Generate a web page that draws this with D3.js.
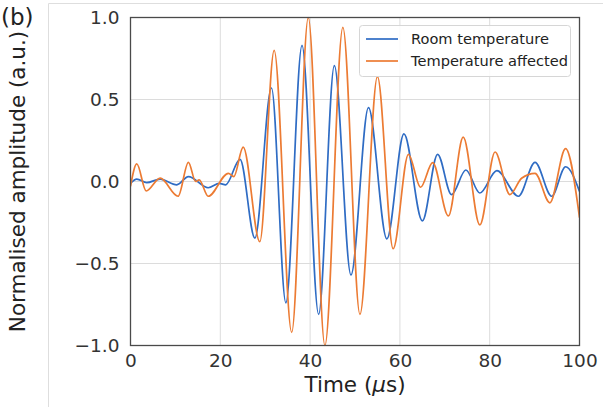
<!DOCTYPE html>
<html>
<head>
<meta charset="utf-8">
<script src="https://cdn.jsdelivr.net/npm/d3@7"></script>
<style>
  html, body { margin: 0; padding: 0; background: #fff; }
  svg { display: block; font-family: "DejaVu Sans", sans-serif; }
</style>
</head>
<body>
<svg id="chart" width="612" height="407"></svg>
<script>
// Ultrasonic signal envelopes: local extrema (time in µs, normalised amplitude)
const roomTime = [0, 1.4, 3.6, 6.6, 10.3, 12.9, 17.3, 19.8, 21.2, 24.4, 27.7, 31.4, 34.6, 38.2, 41.9, 45.4, 49.1, 53.0, 57.1, 60.9, 65.0, 68.4, 71.5, 74.7, 77.8, 81.6, 86.4, 90.1, 93.8, 96.9, 100];
const roomAmp  = [-0.01, 0.015, -0.007, 0.015, -0.02, 0.03, -0.038, -0.012, -0.02, 0.135, -0.345, 0.57, -0.74, 0.83, -0.81, 0.706, -0.57, 0.45, -0.35, 0.29, -0.24, 0.166, -0.08, 0.07, -0.07, 0.066, -0.09, 0.117, -0.09, 0.09, -0.06];

const hotTime = [0, 1.4, 3.5, 6.6, 10.6, 12.9, 14.5, 15.3, 17.3, 21.8, 23.0, 25.1, 28.8, 32.0, 35.9, 39.6, 43.3, 47.3, 51.1, 55.0, 58.5, 61.9, 64.6, 67.3, 70.8, 74.1, 77.8, 81.2, 84.5, 87.1, 90.1, 93.4, 96.9, 100];
const hotAmp  = [-0.03, 0.107, -0.058, 0.02, -0.09, 0.117, 0.0, 0.01, -0.09, 0.05, 0.03, 0.21, -0.367, 0.8, -0.92, 1.0, -1.0, 0.94, -0.81, 0.64, -0.41, 0.166, -0.035, 0.115, -0.21, 0.27, -0.265, 0.18, -0.08, 0.02, 0.05, -0.13, 0.2, -0.22];

const seriesNames = ["Room temperature", "Temperature affected"];
const seriesColors = ["#2f6cc4", "#ec7b33"];

const xTicks = [0, 20, 40, 60, 80, 100];
const yTicks = [-1.0, -0.5, 0.0, 0.5, 1.0];

const svg = d3.select("#chart");
const W = 612, H = 407;
const plot = { left: 130.5, right: 579.5, top: 17.5, bottom: 345.5 };

const x = d3.scaleLinear().domain([0, 100]).range([plot.left, plot.right]);
const y = d3.scaleLinear().domain([-1, 1]).range([plot.bottom, plot.top]);

// faint frame around the figure panel
svg.append("path")
  .attr("d", `M48.5,${H} V3.5 H603`)
  .attr("fill", "none").attr("stroke", "#dedede").attr("stroke-width", 1);

// panel tag
svg.append("text").attr("x", 1).attr("y", 25)
  .attr("font-size", 23).attr("fill", "#222").text("(b)");

// grid
const grid = svg.append("g");
grid.selectAll("line.gx").data(xTicks).join("line")
  .attr("x1", d => x(d)).attr("x2", d => x(d))
  .attr("y1", plot.top).attr("y2", plot.bottom)
  .attr("stroke", "#dcdcdc").attr("stroke-width", 1);
grid.selectAll("line.gy").data(yTicks).join("line")
  .attr("x1", plot.left).attr("x2", plot.right)
  .attr("y1", d => y(d)).attr("y2", d => y(d))
  .attr("stroke", "#dcdcdc").attr("stroke-width", 1);

// axes (labels only, no tick marks)
const fmtY = v => d3.format(".1f")(v).replace("-", "\u2212");
const xAxis = svg.append("g").attr("transform", `translate(0,${plot.bottom})`)
  .call(d3.axisBottom(x).tickValues(xTicks).tickSize(0).tickPadding(8).tickFormat(d3.format("d")));
const yAxis = svg.append("g").attr("transform", `translate(${plot.left},0)`)
  .call(d3.axisLeft(y).tickValues(yTicks).tickSize(0).tickPadding(11).tickFormat(fmtY));
[xAxis, yAxis].forEach(g => {
  g.select(".domain").remove();
  g.selectAll("text").attr("font-size", 18.5).attr("fill", "#333")
    .attr("font-family", "DejaVu Sans, sans-serif");
});

// signal curves
svg.append("clipPath").attr("id", "clip").append("rect")
  .attr("x", plot.left).attr("y", plot.top - 1)
  .attr("width", plot.right - plot.left).attr("height", plot.bottom - plot.top + 2);

const line = d3.line().x(d => x(d[0])).y(d => y(d[1])).curve(d3.curveMonotoneX);
const series = [
  d3.zip(roomTime, roomAmp),
  d3.zip(hotTime, hotAmp)
];
svg.append("g").attr("clip-path", "url(#clip)")
  .selectAll("path").data(series).join("path")
  .attr("d", line).attr("fill", "none")
  .attr("stroke", (d, i) => seriesColors[i]).attr("stroke-width", 1.7);

// spines
svg.append("rect")
  .attr("x", plot.left).attr("y", plot.top)
  .attr("width", plot.right - plot.left).attr("height", plot.bottom - plot.top)
  .attr("fill", "none").attr("stroke", "#4a4a4a").attr("stroke-width", 1.3);

// axis titles
const xt = svg.append("text").attr("x", (plot.left + plot.right) / 2).attr("y", 392)
  .attr("text-anchor", "middle").attr("font-size", 21.5).attr("fill", "#222");
xt.append("tspan").text("Time (");
xt.append("tspan").attr("font-style", "italic").text("\u03bc");
xt.append("tspan").text("s)");

svg.append("text")
  .attr("transform", `translate(25,${(plot.top + plot.bottom) / 2}) rotate(-90)`)
  .attr("text-anchor", "middle").attr("font-size", 21.5).attr("fill", "#222")
  .text("Normalised amplitude (a.u.)");

// legend
const lg = svg.append("g");
lg.append("rect").attr("x", 359.5).attr("y", 25.5).attr("width", 211).attr("height", 51)
  .attr("rx", 3).attr("fill", "#fff").attr("fill-opacity", 0.85)
  .attr("stroke", "#d6d6d6").attr("stroke-width", 1);
seriesNames.forEach((name, i) => {
  const yy = 39 + i * 22;
  lg.append("line").attr("x1", 366).attr("x2", 398).attr("y1", yy).attr("y2", yy)
    .attr("stroke", seriesColors[i]).attr("stroke-width", 1.7);
  lg.append("text").attr("x", 411).attr("y", yy).attr("dy", "0.35em")
    .attr("font-size", 14.6).attr("fill", "#222").text(name);
});
</script>
</body>
</html>
